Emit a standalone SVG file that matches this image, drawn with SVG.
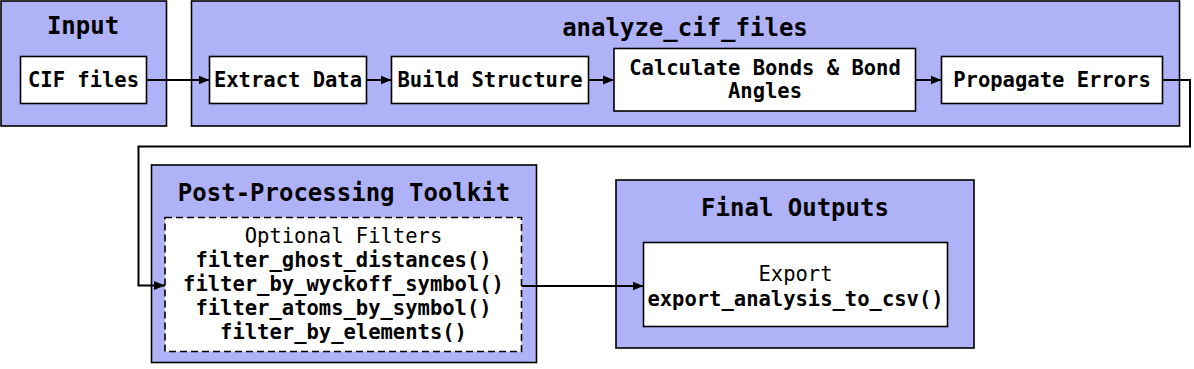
<svg xmlns="http://www.w3.org/2000/svg" width="1194" height="369" viewBox="0 0 1194 369">
<defs>
<marker id="arr" viewBox="0 0 10 10" refX="10" refY="5" markerWidth="11" markerHeight="11" markerUnits="userSpaceOnUse" orient="auto">
<path d="M0,1 L10,5 L0,9 z" fill="#000"/>
</marker>
</defs>
<style>
.cl{fill:#b0b2f8;stroke:#000;stroke-width:1.6}
.bx{fill:#fff;stroke:#000;stroke-width:1.6}
.dbx{fill:#fff;stroke:#000;stroke-width:1.6;stroke-dasharray:7,4}
text{font-family:"DejaVu Sans Mono","Liberation Mono",monospace;text-anchor:middle;dominant-baseline:central;fill:#000}
.t{font-size:24px;font-weight:bold}
.b{font-size:20.5px;font-weight:bold}
.n{font-size:20.5px}
.c{fill:none;stroke:#000;stroke-width:2;marker-end:url(#arr)}
</style>
<rect width="1194" height="369" fill="#fff"/>
<g id="input">
<rect class="cl" x="1" y="1" width="165.5" height="125"/>
<text class="t" x="83" y="26">Input</text>
</g>
<g id="analyze_cif_files">
<rect class="cl" x="191.5" y="1" width="988" height="125"/>
<text class="t" x="685" y="28">analyze_cif_files</text>
</g>
<g id="post_processing">
<rect class="cl" x="151.5" y="165" width="385" height="197.5"/>
<text class="t" x="344" y="193">Post-Processing Toolkit</text>
</g>
<g id="final_outputs">
<rect class="cl" x="616" y="180" width="358" height="168"/>
<text class="t" x="795" y="208">Final Outputs</text>
</g>
<g id="cif_files">
<rect class="bx" x="20.5" y="56.5" width="126" height="47"/>
<text class="b" x="83.5" y="80">CIF files</text>
</g>
<g id="extract_data">
<rect class="bx" x="209.5" y="56.5" width="157" height="47"/>
<text class="b" x="288" y="80">Extract Data</text>
</g>
<g id="build_structure">
<rect class="bx" x="391.5" y="56.5" width="197" height="47"/>
<text class="b" x="490" y="80">Build Structure</text>
</g>
<g id="calculate_bonds">
<rect class="bx" x="614" y="48.5" width="301.5" height="62.5"/>
<text class="b" x="765" y="68">Calculate Bonds &amp; Bond</text>
<text class="b" x="765" y="91">Angles</text>
</g>
<g id="propagate_errors">
<rect class="bx" x="941.5" y="56.5" width="221" height="47"/>
<text class="b" x="1052" y="80">Propagate Errors</text>
</g>
<g id="optional_filters">
<rect class="dbx" x="165" y="217.5" width="356.5" height="134"/>
<text class="n" x="343.5" y="236">Optional Filters</text>
<text class="b" x="343.5" y="260">filter_ghost_distances()</text>
<text class="b" x="343.5" y="284">filter_by_wyckoff_symbol()</text>
<text class="b" x="343.5" y="308">filter_atoms_by_symbol()</text>
<text class="b" x="343.5" y="332">filter_by_elements()</text>
</g>
<g id="export">
<rect class="bx" x="643.5" y="242.5" width="304" height="84"/>
<text class="n" x="795.5" y="274">Export</text>
<text class="b" x="795.5" y="299">export_analysis_to_csv()</text>
</g>
<g id="connectors">
<path class="c" d="M146.5,80 H209.5"/>
<path class="c" d="M366.5,80 H391.5"/>
<path class="c" d="M588.5,80 H614"/>
<path class="c" d="M915.5,80 H941.5"/>
<path class="c" d="M1162.5,80 H1190 V146.5 H138.5 V285.5 H165"/>
<path class="c" d="M521.5,286 H643.5"/>
</g>
</svg>
